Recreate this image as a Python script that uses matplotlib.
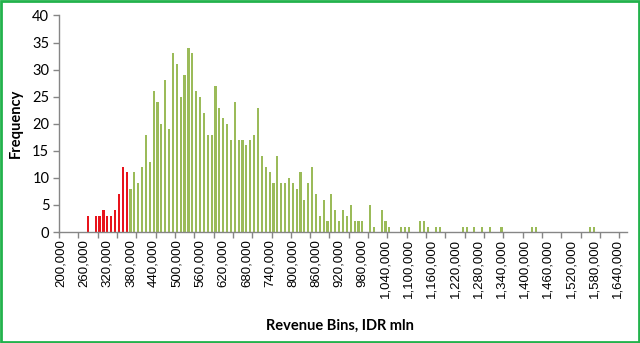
import matplotlib
matplotlib.use("Agg")
import matplotlib.pyplot as plt
from matplotlib.patches import Rectangle
import numpy as np

# Bin lower bounds (IDR mln) and frequencies
bin_start = 200000
bin_step = 10000
counts = [
    0, 0, 0, 0, 0, 0, 0, 3, 0, 3,      # 200k-290k
    3, 4, 3, 3, 4, 7, 12, 11, 8, 11,   # 300k-390k
    9, 12, 18, 13, 26, 24, 20, 28, 19, 33,  # 400k-490k
    31, 25, 29, 34, 33, 26, 25, 22, 18, 18,  # 500k-590k
    27, 23, 21, 20, 17, 24, 17, 17, 16, 17,  # 600k-690k
    18, 23, 14, 12, 11, 9, 14, 9, 9, 10,     # 700k-790k
    9, 8, 11, 6, 9, 12, 7, 3, 6, 2,          # 800k-890k
    7, 4, 2, 4, 3, 5, 2, 2, 2, 0,            # 900k-990k
    5, 1, 0, 4, 2, 1, 0, 0, 1, 1,            # 1,000k-1,090k
    1, 0, 0, 2, 2, 1, 0, 1, 1, 0,            # 1,100k-1,190k
    0, 0, 0, 0, 1, 1, 0, 1, 0, 1,            # 1,200k-1,290k
    0, 1, 0, 0, 1, 0, 0, 0, 0, 0,            # 1,300k-1,390k
    0, 0, 1, 1, 0, 0, 0, 0, 0, 0,            # 1,400k-1,490k
    0, 0, 0, 0, 0, 0, 0, 1, 1, 0,            # 1,500k-1,590k
    0, 0, 0, 0, 0, 0, 0,                     # 1,600k-1,660k
]
bins = [bin_start + bin_step * i for i in range(len(counts))]
red_threshold = 380000

RED = "#E8141C"
GREEN = "#9BBB59"

fig = plt.figure(figsize=(6.4, 3.43), dpi=100)
ax = fig.add_axes([59 / 640, 1 - 232 / 343, (627 - 59) / 640, (232 - 15.5) / 343])

x = np.arange(len(counts))
colors = [RED if b < red_threshold else GREEN for b in bins]
ax.bar(x, counts, width=0.56, color=colors, linewidth=0, antialiased=False)

ax.set_xlim(-0.5, len(counts) - 0.5)
ax.set_ylim(0, 40)
ax.set_yticks(np.arange(0, 41, 5))

# category labels every 6 bins, tick marks every 5 bins
label_idx = list(range(0, len(counts), 6))
ax.set_xticks(label_idx)
ax.set_xticklabels([f"{bins[i]:,}" for i in label_idx], rotation=90,
                   fontsize=9.5, family="Liberation Sans")
ax.tick_params(axis="x", which="major", length=0, pad=5)
ax.set_xticks(np.arange(-0.5, len(counts) - 1, 5), minor=True)
ax.tick_params(axis="x", which="minor", length=4, width=1, color="#868686",
               direction="out")
ax.tick_params(axis="y", length=4, width=1, color="#868686", direction="out",
               labelsize=10.5, pad=3)
for lab in ax.get_yticklabels():
    lab.set_family("Lato")

for s in ["top", "right"]:
    ax.spines[s].set_visible(False)
for s in ["left", "bottom"]:
    ax.spines[s].set_color("#868686")
    ax.spines[s].set_linewidth(1)

fig.text(16 / 640, 1 - 123 / 343, "Frequency", rotation=90, ha="center",
         va="center", fontsize=10.5, fontweight="bold", family="Lato")
fig.text(340 / 640, 1 - 326 / 343, "Revenue Bins, IDR mln", ha="center",
         va="center", fontsize=10.5, fontweight="bold", family="Lato")

fig.patches.append(Rectangle((0.0015, 0.003), 0.997, 0.994, transform=fig.transFigure,
                             fill=False, edgecolor="#22B24C", linewidth=2))

fig.savefig("out.png", dpi=100)
